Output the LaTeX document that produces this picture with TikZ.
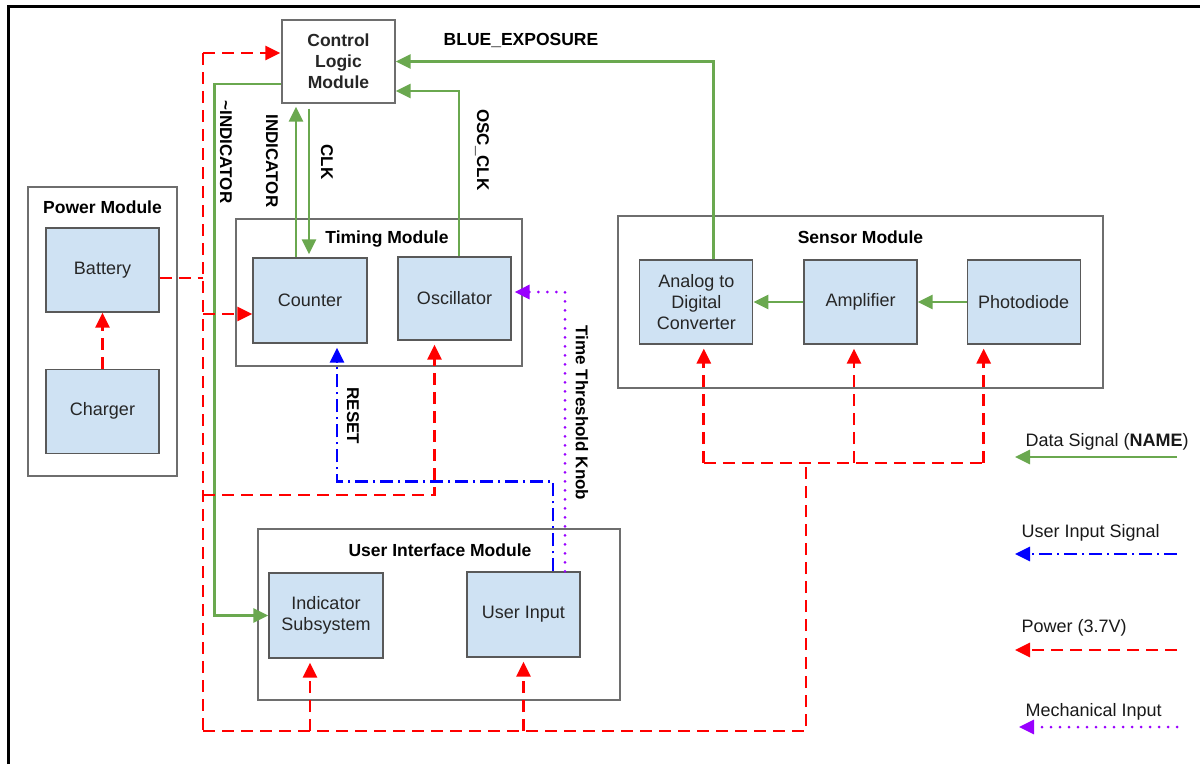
\documentclass[tikz,border=0pt]{standalone}
\usepackage{fontspec}
\setmainfont{Liberation Sans}
\usetikzlibrary{positioning, arrows.meta}
\definecolor{sigGreen}{HTML}{6AA84F}
\definecolor{sigRed}{HTML}{FF0000}
\definecolor{sigBlue}{HTML}{0000FF}
\definecolor{sigPurple}{HTML}{9900FF}
\definecolor{blockFill}{HTML}{CFE2F3}
\definecolor{blockLine}{HTML}{595959}
\definecolor{groupLine}{HTML}{6E6E6E}

\begin{document}
\begin{tikzpicture}[x=1pt, y=-1pt,
		every node/.style={font=\fontsize{18}{21}\selectfont, text=black!85},
		block/.style={rectangle, draw=blockLine, fill=blockFill, line width=1.2pt,
			minimum width=113pt, minimum height=84pt, inner sep=0pt, align=center},
		ctrlbox/.style={block, draw=groupLine, fill=white, font=\bfseries\fontsize{17.5}{21}\selectfont},
		group/.style={rectangle, draw=groupLine, line width=1.2pt, inner sep=0pt},
		title/.style={font=\bfseries\fontsize{17.5}{21}\selectfont, text=black},
		sig/.style={font=\bfseries\fontsize{17}{20}\selectfont, text=black, rotate=-90},
		legend/.style={anchor=west, text=black!90},
		tip/.style={-{Triangle[length=15pt,width=14pt]}},
		data/.style={tip, sigGreen, line width=2.8pt},
		pwr/.style={sigRed, line width=2.8pt, dash pattern=on 12pt off 7pt},
		power/.style={pwr, tip, shorten >=4pt},
		user/.style={tip, sigBlue, line width=2.8pt, dash pattern=on 13pt off 5pt on 2pt off 5pt, shorten >=4pt},
		mech/.style={tip, sigPurple, line width=3pt, line cap=round, dash pattern=on 0pt off 9pt, shorten >=3pt},
		]
		\useasboundingbox (0,0) rectangle (1200,764);
		\draw[line width=3pt] (8,764) -- (8,6) -- (1200,6);
		
		% Control Logic (top)
		\node[ctrlbox, minimum height=83pt] (ctrl) at (338.5,61.5) {Control\\Logic\\Module};
		
		% Power Module
		\node[group, minimum width=149pt, minimum height=289pt] (powmod) at (102.5,331.5) {};
		\node[title] at (102.5,207) {Power Module};
		\node[block] (batt) at (102.5,270) {Battery};
		\node[block, below=56pt of batt] (chrg) {Charger};
		
		% Timing Module
		\node[group, minimum width=286pt, minimum height=147pt] (timmod) at (379,292.5) {};
		\node[title] at (387,239) {Timing Module};
		\node[block, minimum width=114pt, minimum height=85pt] (cnt) at (310,300.5) {Counter};
		\node[block, minimum height=83pt] (osc) at (454.5,298.5) {Oscillator};
		
		% Sensor Module
		\node[group, minimum width=485pt, minimum height=172pt] (senmod) at (860.5,302) {};
		\node[title] at (860.5,237) {Sensor Module};
		\node[block] (amp) at (860.5,302) {Amplifier};
		\node[block, left=50pt of amp] (adc) {Analog to\\Digital\\Converter};
		\node[block, right=49pt of amp] (photo) {Photodiode};
		
		% User Interface Module
		\node[group, minimum width=362pt, minimum height=171pt] (uimod) at (439,614.5) {};
		\node[title] at (440,550) {User Interface Module};
		\node[block, minimum width=114pt, minimum height=85pt] (ind) at (326,615.5) {Indicator\\Subsystem};
		\node[block, minimum height=85pt] (uin) at (523.5,614.5) {User Input};
		
		% Data signals
		\draw[data] (photo.west) -- (amp.east);
		\draw[data] (amp.west) -- (adc.east);
		\draw[data] ([xshift=17.5pt]adc.north) |- (ctrl.east);
		\draw[data] ([xshift=4.5pt]osc.north) |- ([yshift=-29.5pt]ctrl.east);
		\draw[data, shorten >=3pt] ([xshift=-14pt]cnt.north) -- ([xshift=-14pt]cnt.north |- ctrl.south);
		\draw[data, shorten >=3pt] ([xshift=-1pt, yshift=-5pt]cnt.north |- ctrl.south) -- ([xshift=-1pt]cnt.north);
		\draw[data] ([yshift=-22.5pt]ctrl.west) -| ([xshift=-54pt]ind.west) -- (ind.west);
		
		\node[font=\bfseries\fontsize{17.5}{20}\selectfont, text=black] (lblBlue) at (521,40) {BLUE\_EXPOSURE};
		\node[sig] (lblNotInd) at (226,152) {\textasciitilde INDICATOR};
		\node[sig] (lblInd) at (272,161) {INDICATOR};
		\node[sig] (lblClk) at (327,162) {CLK};
		\node[sig] (lblOsc) at (482,150) {OSC\_CLK};
		\node[sig] (lblReset) at (353,416) {RESET};
		\node[sig] (lblKnob) at (582,413) {Time Threshold Knob};
		
		% Power network
		\coordinate (busTop) at (203,53);
		\coordinate (busOsc) at (203,495);
		\coordinate (busBot) at (203,731);
		\coordinate (senTap) at (806,463);
		\draw[pwr] (busTop) -- (busBot);
		\draw[pwr] ([yshift=-8pt]batt.east) -- ([yshift=-8pt]batt.east -| busTop);
		\draw[power, shorten >=0pt] (chrg.north) -- (batt.south);
		\draw[power, shorten >=1pt] (busTop) -- (busTop -| ctrl.west);
		\draw[power, shorten >=0pt] ([yshift=-13.5pt]cnt.west -| busTop) -- ([yshift=-13.5pt]cnt.west);
		\draw[power] (busOsc) -| ([xshift=-20pt]osc.south);
		\draw[pwr] (busBot) -| (senTap);
		\draw[pwr] (senTap -| adc.south) ++(7.5,0) -- ([xshift=-40pt]senTap -| photo.south);
		\draw[power] ([xshift=7.5pt]senTap -| adc.south) -- ([xshift=7.5pt]adc.south);
		\draw[power] ([xshift=-6.5pt]senTap -| amp.south) -- ([xshift=-6.5pt]amp.south);
		\draw[power] ([xshift=-40pt]senTap -| photo.south) -- ([xshift=-40pt]photo.south);
		\draw[power] ([xshift=-16pt]busBot -| ind.south) -- ([xshift=-16pt]ind.south);
		\draw[power] (busBot -| uin.south) -- (uin.south);
		
		% User input and knob
		\draw[user] ([xshift=29.5pt]uin.north) -- ++(0,-90) -| ([xshift=27pt]cnt.south);
		\draw[mech] ([xshift=41.5pt]uin.north) |- ([yshift=6.5pt]osc.east);
		
		% Legend
		\node[legend] (lgData) at (1022,442) {Data Signal (\textbf{NAME})};
		\node[legend] (lgUser) at (1018,533) {User Input Signal};
		\node[legend] (lgPower) at (1018,628) {Power (3.7V)};
		\node[legend] (lgMech) at (1022,712) {Mechanical Input};
		\coordinate (lgDa) at (1177,457);
		\coordinate (lgDb) at (1015,457);
		\coordinate (lgUa) at (1177,554);
		\coordinate (lgUb) at (1015,554);
		\coordinate (lgPa) at (1177,650);
		\coordinate (lgPb) at (1015,650);
		\coordinate (lgMa) at (1177,727);
		\coordinate (lgMb) at (1019,727);
		\draw[data] (lgDa) -- (lgDb);
		\draw[user, shorten >=0pt] (lgUa) -- (lgUb);
		\draw[power, shorten >=0pt] (lgPa) -- (lgPb);
		\draw[mech, shorten >=0pt] (lgMa) -- (lgMb);
	\end{tikzpicture}
\end{document}
